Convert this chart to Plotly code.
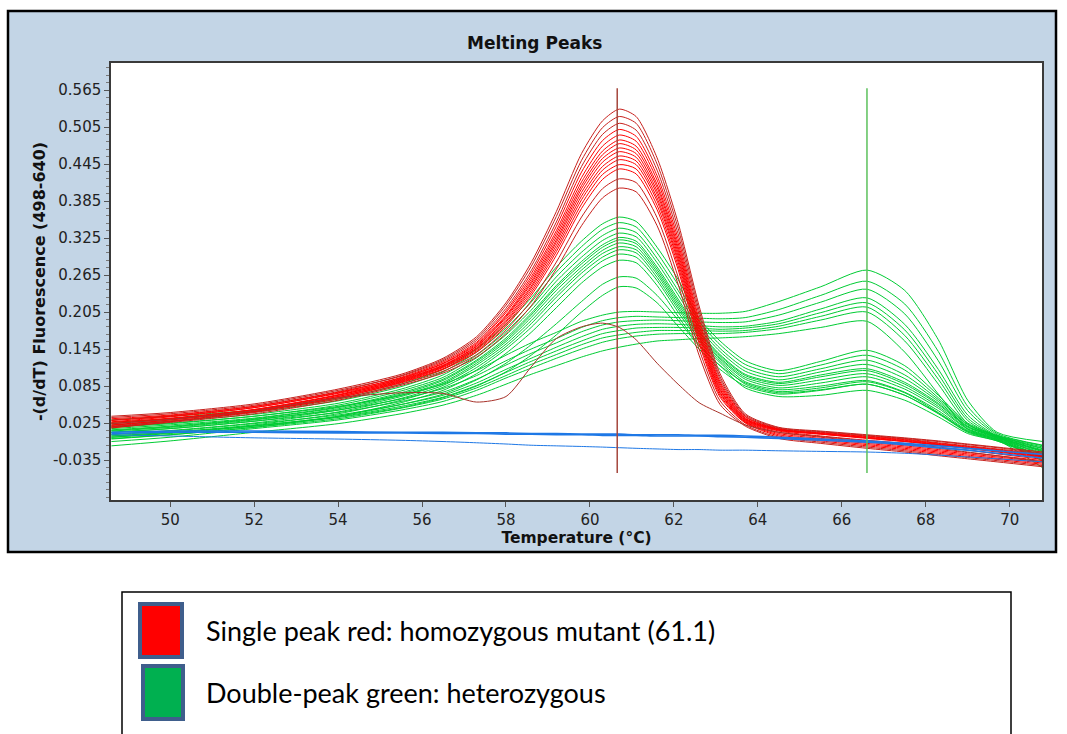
import plotly.graph_objects as go

# Temperature grid (°C) shared by every melting curve
temperature_c = [48.6, 50.0, 52.0, 54.0, 55.5, 56.5, 57.3, 58.0, 58.6, 59.2, 59.8, 60.3, 60.7, 61.1,
                 61.6, 62.1, 62.6, 63.1, 63.7, 64.5, 65.5, 66.6, 67.5, 68.3, 69.0, 69.7, 70.8]

# -(d/dT) fluorescence, single-peak samples (homozygous mutant)
red_single_peak = [
    [0.036, 0.042, 0.056, 0.080, 0.104, 0.130, 0.165, 0.220, 0.285, 0.368, 0.462, 0.515, 0.534, 0.522, 0.455, 0.350, 0.215, 0.105, 0.040, 0.018, 0.012, 0.006, 0.001, -0.004, -0.009, -0.014, -0.022],
    [0.030, 0.037, 0.052, 0.076, 0.102, 0.128, 0.162, 0.216, 0.279, 0.360, 0.451, 0.504, 0.522, 0.511, 0.445, 0.341, 0.208, 0.100, 0.038, 0.017, 0.011, 0.005, 0.000, -0.005, -0.010, -0.015, -0.024],
    [0.034, 0.040, 0.054, 0.078, 0.101, 0.126, 0.159, 0.211, 0.272, 0.351, 0.441, 0.493, 0.511, 0.500, 0.435, 0.332, 0.201, 0.096, 0.036, 0.016, 0.010, 0.004, -0.001, -0.007, -0.012, -0.017, -0.025],
    [0.027, 0.035, 0.050, 0.074, 0.099, 0.124, 0.156, 0.207, 0.267, 0.344, 0.432, 0.483, 0.501, 0.490, 0.426, 0.324, 0.194, 0.092, 0.035, 0.015, 0.009, 0.003, -0.002, -0.008, -0.013, -0.018, -0.027],
    [0.032, 0.038, 0.052, 0.075, 0.098, 0.122, 0.154, 0.204, 0.262, 0.337, 0.423, 0.474, 0.492, 0.482, 0.419, 0.317, 0.189, 0.089, 0.033, 0.015, 0.008, 0.002, -0.003, -0.009, -0.014, -0.019, -0.028],
    [0.024, 0.032, 0.047, 0.071, 0.097, 0.121, 0.152, 0.200, 0.258, 0.332, 0.416, 0.466, 0.484, 0.474, 0.412, 0.311, 0.184, 0.086, 0.032, 0.014, 0.008, 0.001, -0.004, -0.010, -0.015, -0.020, -0.029],
    [0.029, 0.036, 0.050, 0.073, 0.096, 0.119, 0.150, 0.198, 0.254, 0.327, 0.410, 0.460, 0.478, 0.468, 0.407, 0.306, 0.180, 0.083, 0.031, 0.014, 0.007, 0.001, -0.005, -0.010, -0.016, -0.021, -0.030],
    [0.021, 0.030, 0.046, 0.070, 0.095, 0.118, 0.149, 0.196, 0.251, 0.322, 0.405, 0.454, 0.471, 0.462, 0.401, 0.301, 0.176, 0.080, 0.030, 0.013, 0.007, 0.000, -0.005, -0.011, -0.016, -0.022, -0.031],
    [0.026, 0.033, 0.047, 0.070, 0.094, 0.117, 0.147, 0.193, 0.247, 0.318, 0.399, 0.448, 0.465, 0.456, 0.396, 0.296, 0.172, 0.078, 0.029, 0.012, 0.004, -0.003, -0.008, -0.014, -0.019, -0.025, -0.034],
    [0.019, 0.028, 0.044, 0.068, 0.093, 0.116, 0.146, 0.190, 0.244, 0.313, 0.393, 0.441, 0.458, 0.450, 0.390, 0.291, 0.168, 0.075, 0.028, 0.010, 0.002, -0.006, -0.012, -0.018, -0.023, -0.028, -0.036],
    [0.024, 0.032, 0.046, 0.068, 0.092, 0.115, 0.144, 0.188, 0.240, 0.308, 0.387, 0.435, 0.452, 0.444, 0.385, 0.286, 0.164, 0.073, 0.027, 0.008, 0.000, -0.008, -0.014, -0.020, -0.025, -0.030, -0.038],
    [0.017, 0.027, 0.043, 0.066, 0.091, 0.113, 0.142, 0.185, 0.236, 0.303, 0.380, 0.428, 0.444, 0.437, 0.378, 0.280, 0.159, 0.070, 0.026, 0.006, -0.002, -0.010, -0.016, -0.022, -0.027, -0.032, -0.040],
    [0.022, 0.030, 0.044, 0.066, 0.090, 0.112, 0.140, 0.182, 0.232, 0.297, 0.373, 0.420, 0.437, 0.429, 0.371, 0.274, 0.154, 0.067, 0.025, 0.004, -0.004, -0.012, -0.018, -0.024, -0.029, -0.034, -0.042],
    [0.020, 0.028, 0.042, 0.064, 0.088, 0.109, 0.136, 0.176, 0.223, 0.286, 0.359, 0.405, 0.421, 0.415, 0.358, 0.262, 0.145, 0.061, 0.022, 0.002, -0.006, -0.014, -0.020, -0.026, -0.031, -0.036, -0.044],
    [0.018, 0.026, 0.040, 0.062, 0.086, 0.106, 0.132, 0.170, 0.215, 0.275, 0.345, 0.390, 0.406, 0.400, 0.345, 0.250, 0.135, 0.055, 0.020, 0.000, -0.008, -0.016, -0.022, -0.028, -0.033, -0.038, -0.046],
]

# One dark-red sample with a low, shifted melting shoulder
red_shoulder = [0.024, 0.031, 0.045, 0.066, 0.074, 0.073, 0.059, 0.068, 0.116, 0.162, 0.181, 0.187, 0.180, 0.160,
                0.122, 0.088, 0.058, 0.041, 0.022, 0.010, 0.003, -0.004, -0.010, -0.016, -0.022, -0.028, -0.038]

# Double-peak samples, plateau near 61 °C and dominant second peak
green_high_second = [
    [0.018, 0.024, 0.036, 0.052, 0.070, 0.088, 0.110, 0.135, 0.155, 0.172, 0.190, 0.200, 0.205, 0.206, 0.205, 0.204, 0.203, 0.203, 0.206, 0.222, 0.246, 0.273, 0.240, 0.160, 0.062, 0.010, -0.005],
    [0.013, 0.019, 0.031, 0.046, 0.064, 0.081, 0.102, 0.126, 0.145, 0.162, 0.180, 0.191, 0.196, 0.198, 0.197, 0.196, 0.195, 0.194, 0.196, 0.209, 0.232, 0.255, 0.218, 0.141, 0.052, 0.008, -0.011],
    [0.010, 0.016, 0.028, 0.042, 0.060, 0.075, 0.096, 0.119, 0.138, 0.155, 0.173, 0.184, 0.189, 0.191, 0.192, 0.191, 0.189, 0.188, 0.189, 0.200, 0.221, 0.242, 0.202, 0.126, 0.045, 0.006, -0.016],
    [0.006, 0.012, 0.024, 0.038, 0.055, 0.070, 0.090, 0.112, 0.130, 0.148, 0.165, 0.177, 0.182, 0.185, 0.186, 0.185, 0.183, 0.181, 0.182, 0.190, 0.210, 0.228, 0.185, 0.112, 0.038, 0.004, -0.020],
    [0.002, 0.009, 0.021, 0.035, 0.052, 0.067, 0.086, 0.107, 0.125, 0.142, 0.158, 0.170, 0.175, 0.179, 0.180, 0.180, 0.179, 0.177, 0.179, 0.186, 0.204, 0.220, 0.176, 0.104, 0.033, 0.003, -0.026],
    [-0.001, 0.006, 0.018, 0.032, 0.049, 0.064, 0.082, 0.102, 0.120, 0.136, 0.152, 0.163, 0.168, 0.172, 0.175, 0.175, 0.175, 0.174, 0.175, 0.182, 0.198, 0.213, 0.167, 0.096, 0.029, 0.002, -0.031],
    [-0.005, 0.002, 0.016, 0.030, 0.046, 0.060, 0.078, 0.098, 0.114, 0.130, 0.145, 0.156, 0.162, 0.166, 0.169, 0.170, 0.170, 0.170, 0.172, 0.178, 0.192, 0.205, 0.158, 0.088, 0.024, 0.000, -0.037],
    [-0.012, -0.004, 0.010, 0.024, 0.040, 0.054, 0.070, 0.088, 0.104, 0.118, 0.132, 0.142, 0.148, 0.153, 0.158, 0.160, 0.162, 0.163, 0.165, 0.170, 0.180, 0.190, 0.140, 0.072, 0.015, -0.002, -0.048],
]

# Double-peak samples, dominant first peak and smaller second peak
green_high_first = [
    [0.030, 0.036, 0.046, 0.064, 0.088, 0.112, 0.145, 0.185, 0.228, 0.278, 0.320, 0.348, 0.359, 0.352, 0.310, 0.258, 0.195, 0.158, 0.126, 0.110, 0.125, 0.143, 0.118, 0.070, 0.025, 0.005, -0.012],
    [0.026, 0.032, 0.043, 0.061, 0.084, 0.108, 0.140, 0.179, 0.221, 0.270, 0.311, 0.339, 0.350, 0.343, 0.301, 0.249, 0.190, 0.152, 0.120, 0.105, 0.119, 0.135, 0.111, 0.066, 0.023, 0.004, -0.014],
    [0.022, 0.028, 0.039, 0.057, 0.080, 0.103, 0.135, 0.173, 0.214, 0.262, 0.302, 0.329, 0.341, 0.334, 0.292, 0.240, 0.184, 0.146, 0.114, 0.100, 0.113, 0.127, 0.103, 0.063, 0.022, 0.004, -0.017],
    [0.019, 0.025, 0.036, 0.054, 0.077, 0.099, 0.131, 0.168, 0.208, 0.255, 0.294, 0.321, 0.333, 0.327, 0.285, 0.233, 0.179, 0.141, 0.109, 0.095, 0.108, 0.120, 0.097, 0.060, 0.020, 0.003, -0.019],
    [0.016, 0.022, 0.033, 0.051, 0.074, 0.096, 0.127, 0.163, 0.203, 0.248, 0.287, 0.314, 0.326, 0.320, 0.278, 0.226, 0.174, 0.136, 0.104, 0.091, 0.103, 0.113, 0.091, 0.057, 0.019, 0.002, -0.021],
    [0.014, 0.020, 0.032, 0.050, 0.072, 0.094, 0.125, 0.160, 0.200, 0.245, 0.283, 0.310, 0.322, 0.316, 0.274, 0.222, 0.172, 0.134, 0.102, 0.089, 0.100, 0.110, 0.088, 0.055, 0.018, 0.002, -0.022],
    [0.012, 0.018, 0.030, 0.048, 0.070, 0.091, 0.122, 0.157, 0.196, 0.240, 0.278, 0.305, 0.317, 0.311, 0.270, 0.218, 0.169, 0.131, 0.099, 0.086, 0.095, 0.105, 0.084, 0.052, 0.016, 0.001, -0.024],
    [0.010, 0.016, 0.028, 0.046, 0.068, 0.089, 0.119, 0.153, 0.191, 0.234, 0.273, 0.300, 0.311, 0.306, 0.266, 0.214, 0.166, 0.129, 0.096, 0.082, 0.090, 0.100, 0.080, 0.049, 0.015, 0.000, -0.026],
    [0.007, 0.013, 0.025, 0.043, 0.065, 0.086, 0.115, 0.149, 0.186, 0.229, 0.268, 0.294, 0.306, 0.301, 0.261, 0.210, 0.162, 0.126, 0.092, 0.079, 0.085, 0.094, 0.075, 0.045, 0.013, -0.001, -0.029],
    [0.004, 0.010, 0.022, 0.040, 0.062, 0.083, 0.111, 0.145, 0.180, 0.222, 0.261, 0.288, 0.299, 0.294, 0.256, 0.205, 0.158, 0.123, 0.088, 0.074, 0.079, 0.088, 0.070, 0.041, 0.011, -0.002, -0.031],
    [0.000, 0.006, 0.018, 0.036, 0.058, 0.078, 0.105, 0.138, 0.172, 0.212, 0.252, 0.278, 0.289, 0.285, 0.248, 0.198, 0.152, 0.118, 0.082, 0.068, 0.070, 0.078, 0.062, 0.035, 0.008, -0.004, -0.035],
    [0.002, 0.008, 0.020, 0.036, 0.055, 0.072, 0.095, 0.122, 0.152, 0.186, 0.222, 0.250, 0.262, 0.260, 0.232, 0.192, 0.150, 0.118, 0.090, 0.076, 0.082, 0.092, 0.074, 0.042, 0.012, -0.003, -0.030],
    [0.004, 0.010, 0.020, 0.034, 0.050, 0.066, 0.085, 0.108, 0.135, 0.168, 0.205, 0.232, 0.246, 0.244, 0.220, 0.182, 0.145, 0.112, 0.085, 0.072, 0.078, 0.088, 0.070, 0.040, 0.010, -0.004, -0.032],
]

# No-template / negative controls
blue_flat = [
    [0.010, 0.012, 0.012, 0.011, 0.010, 0.010, 0.009, 0.009, 0.008, 0.008, 0.007, 0.007, 0.007, 0.006, 0.006, 0.006, 0.005, 0.005, 0.004, 0.002, -0.001, -0.004, -0.008, -0.012, -0.016, -0.020, -0.026],
    [0.008, 0.010, 0.010, 0.009, 0.009, 0.008, 0.008, 0.007, 0.007, 0.006, 0.006, 0.005, 0.005, 0.005, 0.004, 0.004, 0.004, 0.003, 0.002, 0.000, -0.003, -0.006, -0.010, -0.015, -0.019, -0.024, -0.032],
    [0.006, 0.004, 0.001, -0.001, -0.003, -0.005, -0.007, -0.009, -0.011, -0.012, -0.013, -0.014, -0.015, -0.016, -0.017, -0.018, -0.018, -0.019, -0.019, -0.020, -0.021, -0.022, -0.024, -0.027, -0.030, -0.033, -0.038],
]

# Melting-peak cursors (°C) and their vertical extent
melt_peak_1 = 60.65
melt_peak_2 = 66.6
cursor_low, cursor_high = -0.056, 0.568

x_range = [48.59, 70.77]
y_range = [-0.0998, 0.6088]
y_ticks = [-0.035, 0.025, 0.085, 0.145, 0.205, 0.265, 0.325, 0.385, 0.445, 0.505, 0.565]

legend_labels = ["Single peak red: homozygous mutant (61.1)", "Double-peak green: heterozygous"]

# Figure geometry in pixels: plot area spans x 111..1042, y 63..500
W, H = 1067, 734
PL, PR, PT, PB = 111, 1042, 63, 500


def px(x):
    return (x - PL) / (PR - PL)


def py(y):
    return (PB - y) / (PB - PT)


fig = go.Figure()


def add_curve(values, color, width=1.0):
    fig.add_trace(go.Scatter(
        x=temperature_c, y=values, mode="lines",
        line=dict(color=color, width=width, shape="spline", smoothing=0.7),
        hoverinfo="skip", showlegend=False,
    ))


for curve in green_high_second:
    add_curve(curve, "#00CC33")
for curve in green_high_first:
    add_curve(curve, "#00CC33")
n_red = len(red_single_peak)
for i, curve in enumerate(red_single_peak):
    edge = i < 3 or i >= n_red - 2
    add_curve(curve, "#C8201C" if edge else "#FF0000")
add_curve(red_shoulder, "#A8322A")
for i, curve in enumerate(blue_flat):
    add_curve(curve, "#1E78E6", 1.6 if i < 2 else 1.0)

shapes = [
    # light-blue chart panel with black frame
    dict(type="rect", xref="paper", yref="paper", x0=px(8), x1=px(1056), y0=py(552), y1=py(11),
         fillcolor="#C3D5E6", line=dict(color="black", width=2.5), layer="below"),
    # white plotting area
    dict(type="rect", xref="paper", yref="paper", x0=0, x1=1, y0=0, y1=1,
         fillcolor="white", line=dict(width=0), layer="below"),
    # melting-peak cursors
    dict(type="line", xref="x", yref="y", x0=melt_peak_1, x1=melt_peak_1, y0=cursor_low, y1=cursor_high,
         line=dict(color="#A5463C", width=1.5), layer="above"),
    dict(type="line", xref="x", yref="y", x0=melt_peak_2, x1=melt_peak_2, y0=cursor_low, y1=cursor_high,
         line=dict(color="#5CC05C", width=1.5), layer="above"),
    # genotype key box
    dict(type="rect", xref="paper", yref="paper", x0=px(122), x1=px(1011), y0=py(745), y1=py(592),
         fillcolor="white", line=dict(color="black", width=1.5), layer="above"),
    dict(type="rect", xref="paper", yref="paper", x0=px(140), x1=px(182), y0=py(657), y1=py(604),
         fillcolor="#FF0000", line=dict(color="#3F5E8C", width=4), layer="above"),
    dict(type="rect", xref="paper", yref="paper", x0=px(143), x1=px(183), y0=py(719), y1=py(666),
         fillcolor="#00B050", line=dict(color="#3F5E8C", width=4), layer="above"),
]

annotations = [
    dict(text="<b>Melting Peaks</b>", xref="paper", yref="paper", x=px(534), y=py(43),
         showarrow=False, xanchor="center", yanchor="middle",
         font=dict(family="DejaVu Sans", size=17, color="#111")),
    dict(text=legend_labels[0], xref="paper", yref="paper", x=px(204), y=py(630),
         showarrow=False, xanchor="left", yanchor="middle",
         font=dict(family="Lato", size=27, color="black")),
    dict(text=legend_labels[1], xref="paper", yref="paper", x=px(204), y=py(692),
         showarrow=False, xanchor="left", yanchor="middle",
         font=dict(family="Lato", size=27, color="black")),
]

tick_font = dict(family="DejaVu Sans", size=15, color="#222")
title_font = dict(family="DejaVu Sans", size=15.5, color="#111")

fig.update_layout(
    width=W, height=H, autosize=False,
    margin=dict(l=PL, r=W - PR, t=PT, b=H - PB, pad=0),
    paper_bgcolor="white", plot_bgcolor="rgba(0,0,0,0)",
    showlegend=False, shapes=shapes, annotations=annotations,
    xaxis=dict(
        range=x_range, tick0=50, dtick=2, ticks="outside", ticklen=5, tickcolor="#555",
        showline=True, mirror=True, linecolor="#3A3A3A", linewidth=1.5,
        showgrid=False, zeroline=False, tickfont=tick_font,
        title=dict(text="<b>Temperature (°C)</b>", font=title_font, standoff=2),
    ),
    yaxis=dict(
        range=y_range, tickmode="array", tickvals=y_ticks,
        ticktext=[f"{v:.3f}" for v in y_ticks],
        ticks="outside", ticklen=5,
        tickcolor="#555", showline=True, mirror=True, linecolor="#3A3A3A", linewidth=1.5,
        showgrid=False, zeroline=False, tickfont=tick_font,
        minor=dict(tick0=0.025, dtick=0.012, ticks="outside", ticklen=3, tickcolor="#777", showgrid=False),
        title=dict(text="<b>-(d/dT) Fluorescence (498-640)</b>",
                   font=dict(family="DejaVu Sans", size=16, color="#111"), standoff=3),
    ),
)

fig.write_html("out.html")
